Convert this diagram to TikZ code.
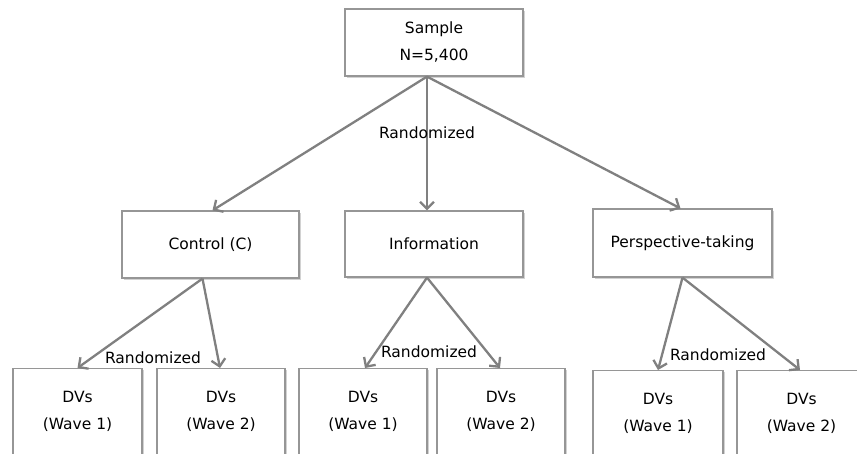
\documentclass[tikz,border=0pt]{standalone}
\usepackage{fontspec}
\setmainfont{DejaVu Sans}
\usepackage{tikz}
\usetikzlibrary{shapes,arrows,arrows.meta,backgrounds,%
positioning,fit,calc,shadows%
}
\definecolor{linegray}{RGB}{128,128,128}
\definecolor{boxgray}{RGB}{150,150,150}
\tikzset{
  stagebox/.style={draw=boxgray,line width=1.2pt,fill=white,align=center,
    inner sep=0pt,
    drop shadow={opacity=0.35,shadow xshift=1.5pt,shadow yshift=-1.5pt}},
  dvbox/.style={stagebox,minimum width=129pt,minimum height=86pt},
  flow/.style={draw=linegray,line width=2.3pt,-{Straight Barb[length=7pt,width=14pt,line width=2.3pt]}},
  randlabel/.style={inner sep=0pt}
}
\begin{document}
\begin{tikzpicture}[x=1pt,y=-1pt,font=\fontsize{15.5}{27}\selectfont]
      \clip (0,0) rectangle (857,453);
      \fill[white] (0,0) rectangle (857,453);

      \coordinate (s) at (434,42.5);
      \coordinate (c) at (210.5,244.5);
      \coordinate (i) at (434,244);
      \coordinate (p) at (682.5,243);

      \node[stagebox,minimum width=178pt,minimum height=67pt] (samplen) at (s) {Sample\\N=5,400};
      \node[stagebox,minimum width=177pt,minimum height=67pt] (controln) at (c) {Control (C)};
      \node[stagebox,minimum width=178pt,minimum height=66pt] (infon) at (i) {Information};
      \node[stagebox,minimum width=179pt,minimum height=68pt] (perspn) at (p) {Perspective-taking};

      \node[dvbox,anchor=north] (c1) at (77.5,368) {DVs\\(Wave 1)};
      \node[dvbox,anchor=north,minimum width=128pt] (c2) at (221,368) {DVs\\(Wave 2)};
      \node[dvbox,anchor=north,minimum width=128pt] (i1) at (363,368) {DVs\\(Wave 1)};
      \node[dvbox,anchor=north,minimum width=128pt] (i2) at (501,368) {DVs\\(Wave 2)};
      \node[dvbox,anchor=north,minimum width=130pt] (p1) at (658,370) {DVs\\(Wave 1)};
      \node[dvbox,anchor=north] (p2) at (801.5,370) {DVs\\(Wave 2)};

      \draw[flow] ([xshift=-7pt]samplen.south) -- ([xshift=2pt]controln.north);
      \draw[flow] ([xshift=-7pt]samplen.south) -- ([xshift=-7pt]infon.north);
      \draw[flow] ([xshift=-7pt]samplen.south) -- ([xshift=-2pt]perspn.north);
      \node[randlabel] (rs) at (427,133) {Randomized};

      \draw[flow] ([xshift=-8pt]controln.south) -- (c1.north);
      \draw[flow] ([xshift=-8pt]controln.south) -- ([xshift=-1pt]c2.north);
      \node[randlabel] (rc) at (153,358) {Randomized};

      \draw[flow] ([xshift=-7pt]infon.south) -- ([xshift=2pt]i1.north);
      \draw[flow] ([xshift=-7pt]infon.south) -- ([xshift=-1pt]i2.north);
      \node[randlabel] (ri) at (429,352) {Randomized};

      \draw[flow] (perspn.south) -- (p1.north);
      \draw[flow] (perspn.south) -- ([xshift=-1.5pt]p2.north);
      \node[randlabel] (rp) at (718,355) {Randomized};

    \end{tikzpicture}
\end{document}
